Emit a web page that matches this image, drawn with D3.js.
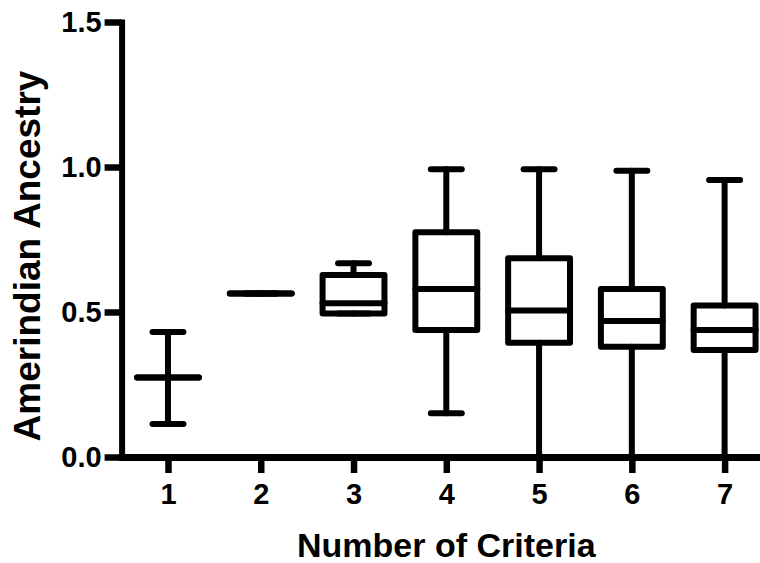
<!DOCTYPE html>
<html>
<head>
<meta charset="utf-8">
<script src="https://cdn.jsdelivr.net/npm/d3@7"></script>
<style>
  body { margin: 0; background: #fff; }
  text { font-family: "Liberation Sans", Arial, sans-serif; font-weight: bold; fill: #000; }
</style>
</head>
<body>
<div id="chart"></div>
<script>

var width = 760;
var height = 563;

// box plot values
var categories = [1, 2, 3, 4, 5, 6, 7];
var whiskerMin = [0.114, 0.564, 0.495, 0.151, 0.0, 0.0, 0.0];
var q1 = [0.274, 0.564, 0.495, 0.438, 0.394, 0.380, 0.369];
var medians = [0.274, 0.564, 0.530, 0.579, 0.505, 0.469, 0.438];
var q3 = [0.274, 0.564, 0.628, 0.775, 0.685, 0.579, 0.522];
var whiskerMax = [0.431, 0.564, 0.668, 0.992, 0.992, 0.987, 0.955];
var yTicks = [0, 0.5, 1.0, 1.5];

var svg = d3.select("#chart").append("svg")
            .attr("width", width)
            .attr("height", height);

var x = d3.scaleLinear().domain([0.5, 7.5]).range([121.6, 771]);
var y = d3.scaleLinear().domain([0, 1.5]).range([457, 22]);

var step = x(2) - x(1);
var boxW = step * 0.667;
var capW = boxW * 0.5;

var boxes = svg.append("g")
               .attr("fill", "none")
               .attr("stroke", "#000")
               .attr("stroke-width", 6)
               .attr("stroke-linecap", "round")
               .attr("stroke-linejoin", "round");

categories.forEach(function(c, i){
	var cx = x(c);

	// whiskers
	boxes.append("line")
	     .attr("x1", cx).attr("x2", cx)
	     .attr("y1", y(whiskerMax[i])).attr("y2", y(q3[i]));
	boxes.append("line")
	     .attr("x1", cx).attr("x2", cx)
	     .attr("y1", y(q1[i])).attr("y2", y(whiskerMin[i]));

	// caps
	[whiskerMin[i], whiskerMax[i]].forEach(function(v){
		boxes.append("line")
		     .attr("x1", cx - capW / 2).attr("x2", cx + capW / 2)
		     .attr("y1", y(v)).attr("y2", y(v));
	});

	// box (path so a zero height box still shows)
	var path = d3.path();
	path.moveTo(cx - boxW / 2, y(q3[i]));
	path.lineTo(cx + boxW / 2, y(q3[i]));
	path.lineTo(cx + boxW / 2, y(q1[i]));
	path.lineTo(cx - boxW / 2, y(q1[i]));
	path.closePath();
	boxes.append("path").attr("d", path.toString());

	// median
	boxes.append("line")
	     .attr("x1", cx - boxW / 2).attr("x2", cx + boxW / 2)
	     .attr("y1", y(medians[i])).attr("y2", y(medians[i]));
});

// axes
var xAxis = svg.append("g")
               .attr("transform", "translate(0," + y(0) + ")")
               .call(d3.axisBottom(x).tickValues(categories).tickFormat(d3.format("d"))
                       .tickSize(16).tickSizeOuter(0).tickPadding(10));

var yAxis = svg.append("g")
               .attr("transform", "translate(" + x(0.5) + ",0)")
               .call(d3.axisLeft(y).tickValues(yTicks).tickFormat(d3.format(".1f"))
                       .tickSize(17).tickSizeOuter(0).tickPadding(3));

xAxis.select(".domain").attr("stroke-width", 7).attr("stroke-linecap", "square");
yAxis.select(".domain").attr("stroke-width", 6).attr("stroke-linecap", "square");
svg.selectAll(".tick line").attr("stroke-width", 6.5);
svg.selectAll(".tick text").style("font-size", "29px");

// titles
svg.append("text")
   .attr("x", (x(0.5) + x(7.5)) / 2)
   .attr("y", 557)
   .attr("text-anchor", "middle")
   .style("font-size", "34px")
   .text("Number of Criteria");

svg.append("text")
   .attr("transform", "translate(40,256) rotate(-90)")
   .attr("text-anchor", "middle")
   .style("font-size", "37px")
   .text("Amerindian Ancestry");

</script>
</body>
</html>
